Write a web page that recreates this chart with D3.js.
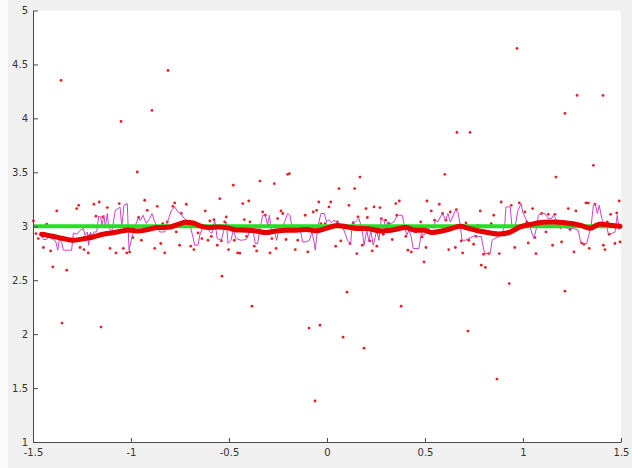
<!DOCTYPE html>
<html>
<head>
<meta charset="utf-8">
<script src="https://cdn.jsdelivr.net/npm/d3@7"></script>
<style>
  html, body { margin: 0; padding: 0; background: #f0f0f0; }
  #chart { width: 632px; height: 468px; }
  .axis text { font-family: "DejaVu Sans", sans-serif; font-size: 10px; fill: #333; }
  .axis path, .axis line { stroke: #4a4a4a; }
</style>
</head>
<body>
<div id="chart"></div>
<script>
// axis ticks
const xTicks = [-1.5, -1, -0.5, 0, 0.5, 1, 1.5];
const yTicks = [1, 1.5, 2, 2.5, 3, 3.5, 4, 4.5, 5];

// reference level
const target = 3;

// raw samples (x, value)
const samples = [
  [-1.498,3.049],[-1.485,2.932],[-1.473,2.886],[-1.447,2.803],[-1.430,3.019],[-1.410,2.771],
  [-1.399,2.623],[-1.379,3.142],[-1.328,2.593],[-1.320,3.000],[-1.308,2.870],[-1.277,3.164],
  [-1.267,3.194],[-1.260,2.803],[-1.240,2.784],[-1.218,2.753],[-1.209,2.917],[-1.189,3.204],
  [-1.162,3.225],[-1.179,3.093],[-1.144,3.086],[-1.121,3.173],[-1.107,2.794],[-1.077,2.753],
  [-1.060,3.210],[-1.039,2.794],[-1.022,2.753],
  [-0.968,3.503],[-1.007,2.762],[-0.990,2.895],[-0.961,3.081],[-0.947,2.870],[-0.930,3.241],
  [-0.917,3.148],[-0.879,2.794],[-0.866,3.185],[-0.848,2.840],[-0.838,3.025],[-0.828,2.753],
  [-0.815,3.040],[-0.786,3.185],[-0.777,3.216],[-0.769,2.947],[-0.752,2.824],[-0.743,3.118],
  [-0.718,3.204],[-0.695,2.815],[-0.679,2.784],[-0.658,2.938],[-0.638,2.886],[-0.621,3.142],
  [-0.607,2.870],[-0.598,3.049],[-0.590,2.907],[-0.577,3.062],[-0.560,2.824],[-0.547,3.256],
  [-0.539,2.864],[-0.522,3.040],[-0.514,3.086],[-0.536,2.537],
  [-0.478,3.380],[-0.342,3.419],[-0.269,3.395],[-0.201,3.481],[-0.192,3.488],[-0.430,3.210],
  [-0.399,3.234],[-0.502,2.784],[-0.473,2.870],[-0.456,2.753],[-0.445,2.750],[-0.422,3.062],
  [-0.410,2.907],[-0.393,3.040],[-0.371,2.815],[-0.359,2.771],[-0.345,2.963],[-0.328,3.132],
  [-0.315,3.102],[-0.297,3.009],[-0.291,2.753],[-0.281,2.886],[-0.260,2.794],[-0.252,3.071],
  [-0.235,3.142],[-0.226,3.118],[-0.209,2.877],[-0.184,2.963],[-0.162,2.784],[-0.149,2.870],
  [-0.133,2.963],[-0.111,3.102],[-0.098,2.762],[-0.077,2.969],[-0.070,3.132],[-0.053,3.148],
  [-0.042,3.225],[-0.031,3.025],[-0.009,3.025],
  [0.168,3.456],[0.061,3.349],[0.141,3.349],[0.019,3.225],[0.010,3.179],[0.112,3.194],
  [0.199,3.164],[0.240,3.179],[0.270,3.173],[0.351,3.210],[0.369,3.234],[0.044,2.815],
  [0.053,3.040],[0.070,2.864],[0.117,2.840],[0.134,3.031],[0.152,2.747],[0.158,3.086],
  [0.180,2.824],[0.206,3.081],[0.219,2.864],[0.231,2.771],[0.254,2.815],[0.277,3.071],
  [0.287,2.926],[0.299,3.056],[0.316,3.025],[0.333,2.877],[0.356,3.102],[0.367,2.994],
  [0.402,2.907],[0.413,2.778],[0.430,2.762],[0.453,2.947],[0.478,3.040],[0.495,2.669],
  [0.601,3.481],[0.510,3.234],[0.573,3.204],[0.889,3.225],[0.940,3.194],[0.981,3.216],
  [0.532,3.142],[0.590,3.118],[0.629,3.132],[0.660,3.155],[0.782,3.142],[0.851,3.102],
  [0.549,3.056],[0.607,3.056],[0.709,3.031],[0.770,3.009],[0.838,3.025],[0.621,2.784],
  [0.655,2.803],[0.685,2.864],[0.692,2.753],[0.723,2.870],[0.748,2.833],[0.760,2.907],
  [0.799,2.741],[0.825,2.747],[0.787,2.639],[0.808,2.618],[0.879,2.747],[0.958,2.803],
  [0.930,2.469],[0.485,2.901],[0.505,2.803],
  [1.359,3.565],[1.168,3.456],[1.491,3.234],[1.321,3.216],[1.333,3.216],[1.231,3.164],
  [1.270,3.142],[1.049,3.164],[1.010,3.132],[1.095,3.118],[1.129,3.111],[1.163,3.111],
  [1.447,3.111],[1.478,3.123],[1.367,3.204],[1.019,3.040],[1.166,3.040],[1.430,3.040],
  [1.372,3.019],[1.192,2.988],[1.240,2.969],[1.117,2.947],[1.061,2.895],[1.440,2.926],
  [1.027,2.845],[1.197,2.855],[1.299,2.845],[1.311,2.833],[1.151,2.824],[1.410,2.824],
  [1.469,2.840],[1.495,2.855],[1.066,2.747],[1.260,2.762],[1.338,2.794],[1.418,2.784],
  [-1.357,4.352],[-1.051,3.972],[-0.893,4.074],[-0.811,4.444],[-1.352,2.102],[-1.153,2.065],
  [-0.383,2.259],[-0.092,2.056],[-0.036,2.083],[-0.061,1.380],[0.082,1.972],[0.102,2.389],
  [0.189,1.870],[0.378,2.259],[0.719,2.028],[0.867,1.583],[0.969,4.648],[1.276,4.213],
  [1.408,4.213],[1.214,4.046],[1.214,2.398],[0.663,3.870],[0.730,3.870]
];

// running median (step-like trace)
const median = [
  [-1.456,2.917],[-1.447,2.877],[-1.430,2.877],[-1.422,2.907],[-1.410,2.886],[-1.396,2.877],
  [-1.383,2.855],[-1.374,2.778],[-1.366,2.870],[-1.354,2.855],[-1.345,2.778],[-1.303,2.778],
  [-1.294,2.938],[-1.277,2.926],[-1.260,2.963],[-1.243,2.979],[-1.235,2.917],[-1.223,2.947],
  [-1.216,2.824],[-1.206,2.947],[-1.199,2.870],[-1.189,2.947],[-1.175,2.947],[-1.165,3.093],
  [-1.155,3.086],[-1.148,3.009],[-1.138,3.102],[-1.131,2.994],[-1.121,3.118],[-1.114,2.994],
  [-1.098,2.947],[-1.080,3.148],[-1.066,3.164],[-1.056,3.179],[-1.047,2.994],[-1.036,3.194],
  [-1.019,3.210],[-1.010,2.778],
  [-0.995,2.901],[-0.981,2.994],[-0.964,3.071],[-0.951,3.056],[-0.939,3.102],[-0.922,3.025],
  [-0.905,3.071],[-0.893,3.118],[-0.879,3.040],[-0.866,2.994],[-0.854,2.947],[-0.828,2.947],
  [-0.811,3.056],[-0.794,3.148],[-0.777,3.179],[-0.760,3.132],[-0.746,3.118],[-0.735,3.086],
  [-0.718,3.056],[-0.701,3.025],[-0.684,2.901],[-0.675,2.824],[-0.658,2.824],[-0.649,2.917],
  [-0.633,2.994],[-0.616,3.009],[-0.598,2.947],[-0.587,2.932],[-0.573,3.056],[-0.560,2.886],
  [-0.539,2.870],[-0.526,2.963],[-0.514,3.040],[-0.505,2.840],
  [-0.490,2.870],[-0.478,2.963],[-0.464,2.886],[-0.439,2.870],[-0.413,2.877],[-0.405,2.901],
  [-0.393,2.963],[-0.379,2.979],[-0.366,2.840],[-0.354,2.840],[-0.345,2.947],[-0.328,3.102],
  [-0.315,3.102],[-0.303,3.009],[-0.294,3.102],[-0.282,2.932],[-0.269,2.963],[-0.257,2.870],
  [-0.243,2.994],[-0.226,2.994],[-0.213,3.056],[-0.201,3.118],[-0.189,3.102],[-0.179,2.994],
  [-0.167,2.963],[-0.155,2.994],[-0.138,2.979],[-0.124,2.855],[-0.107,2.855],[-0.090,2.870],
  [-0.077,2.947],[-0.066,2.855],[-0.060,2.778],[-0.047,2.994],[-0.031,3.118],[-0.014,3.118],
  [-0.002,3.040],[0.010,3.062],[0.022,3.031],[0.036,3.056],[0.049,3.040],[0.061,3.025],
  [0.078,2.994],[0.090,2.947],[0.104,2.870],[0.121,2.840],[0.129,3.040],[0.146,3.040],
  [0.163,3.071],[0.180,2.963],[0.189,2.824],[0.203,2.963],[0.214,2.855],[0.223,2.963],
  [0.236,2.824],[0.254,2.963],[0.265,2.870],[0.277,3.071],[0.291,3.056],[0.299,2.963],
  [0.308,3.040],[0.325,3.025],[0.342,3.040],[0.359,3.102],[0.384,3.102],[0.396,2.994],
  [0.407,2.917],[0.418,2.963],[0.430,2.901],[0.440,2.794],[0.469,2.794],[0.481,2.932],
  [0.495,2.917],
  [0.502,2.932],[0.515,2.963],[0.527,3.009],[0.544,2.979],[0.553,3.056],[0.566,3.040],
  [0.578,3.086],[0.590,3.118],[0.604,3.056],[0.617,3.118],[0.629,3.040],[0.641,3.086],
  [0.655,3.148],[0.668,3.132],[0.680,3.009],[0.689,2.870],[0.706,2.870],[0.723,2.886],
  [0.740,2.901],[0.754,2.917],[0.765,2.901],[0.787,2.907],[0.800,2.778],[0.808,2.747],
  [0.833,2.747],[0.842,2.870],[0.856,2.886],[0.872,2.901],[0.889,2.917],[0.907,3.009],
  [0.913,3.179],[0.935,3.179],[0.944,2.994],[0.961,3.009],[0.974,3.148],[0.991,3.210],
  [0.998,3.132],[1.010,3.086],[1.022,3.040],[1.032,3.009],[1.044,2.947],[1.056,2.886],
  [1.070,2.994],[1.078,3.102],[1.095,3.118],[1.112,3.118],[1.129,3.071],[1.146,3.071],
  [1.155,3.102],[1.172,3.056],[1.189,3.009],[1.206,2.994],[1.231,2.979],[1.257,2.979],
  [1.282,2.963],[1.294,2.855],[1.308,2.840],[1.325,2.840],[1.338,2.932],[1.348,3.009],
  [1.359,3.194],[1.369,3.210],[1.379,3.118],[1.389,3.194],[1.402,3.071],[1.410,3.040],
  [1.423,3.025],[1.435,2.932],[1.453,2.932],[1.469,2.947],[1.481,3.102],[1.491,2.963]
];

// smoothed estimate
const smooth = [
  [-1.456,2.926],[-1.398,2.907],[-1.347,2.886],[-1.296,2.870],[-1.245,2.883],[-1.194,2.900],
  [-1.143,2.926],[-1.092,2.940],[-1.041,2.957],[-1.015,2.965],[-0.964,2.955],[-0.913,2.970],
  [-0.862,2.988],[-0.811,2.990],[-0.760,3.018],[-0.719,3.037],[-0.684,3.030],[-0.648,3.003],
  [-0.607,2.988],[-0.556,2.994],[-0.505,2.985],[-0.464,2.966],[-0.413,2.963],[-0.362,2.956],
  [-0.311,2.942],[-0.260,2.956],[-0.209,2.963],[-0.158,2.963],[-0.107,2.970],[-0.056,2.958],
  [-0.005,2.980],[0.051,3.008],[0.102,2.994],[0.153,2.980],[0.204,2.978],[0.276,2.956],
  [0.327,2.963],[0.403,2.988],[0.444,2.965],[0.495,2.962],[0.536,2.942],[0.587,2.956],
  [0.638,2.980],[0.679,3.000],[0.724,2.980],[0.776,2.956],[0.827,2.940],[0.878,2.928],
  [0.929,2.942],[0.985,2.994],[1.036,3.016],[1.102,3.038],[1.153,3.040],[1.224,3.030],
  [1.291,3.010],[1.342,2.982],[1.393,3.022],[1.444,3.010],[1.495,3.000]
];

const width = 632;
const height = 468;
const margin = ({top: 10.5, right: 11, bottom: 26, left: 33});

const x = d3.scaleLinear()
      .domain([-1.5, 1.5])
      .range([margin.left, width - margin.right]);

const y = d3.scaleLinear()
      .domain([1, 5])
      .range([height - margin.bottom, margin.top]);

const svg = d3.select("#chart").append("svg")
      .attr("width", width)
      .attr("height", height)
      .attr("viewBox", [0, 0, width, height]);

svg.append("rect")
    .attr("x", 0).attr("y", 0)
    .attr("width", 8).attr("height", height)
    .attr("fill", "#fbfbfb");

svg.append("rect")
    .attr("x", x(-1.5))
    .attr("y", y(5))
    .attr("width", x(1.5) - x(-1.5))
    .attr("height", y(1) - y(5))
    .attr("fill", "#fff");

const plot = svg.append("g");

plot.append("g")
    .selectAll("circle")
    .data(samples)
    .join("circle")
    .attr("cx", d => x(d[0]))
    .attr("cy", d => y(d[1]))
    .attr("r", 1.4)
    .attr("fill", "#ec1c24");

const line = d3.line()
      .x(d => x(d[0]))
      .y(d => y(d[1]));

plot.append("path")
    .datum(median)
    .attr("fill", "none")
    .attr("stroke", "#cc44cc")
    .attr("stroke-width", 1)
    .attr("stroke-linejoin", "round")
    .attr("d", line);

plot.append("path")
    .datum([[-1.5, target], [1.5, target]])
    .attr("fill", "none")
    .attr("stroke", "#22e022")
    .attr("stroke-width", 4)
    .attr("d", line);

plot.append("path")
    .datum(smooth)
    .attr("fill", "none")
    .attr("stroke", "#e60000")
    .attr("stroke-width", 5)
    .attr("stroke-linejoin", "round")
    .attr("stroke-linecap", "round")
    .attr("d", d3.line().curve(d3.curveMonotoneX).x(d => x(d[0])).y(d => y(d[1])));

const xAxis = g => g
      .attr("class", "axis")
      .attr("transform", `translate(0,${y(1)})`)
      .call(d3.axisBottom(x).tickValues(xTicks).tickFormat(d => String(d))
            .tickSizeInner(-4).tickSizeOuter(0).tickPadding(7));

const yAxis = g => g
      .attr("class", "axis")
      .attr("transform", `translate(${x(-1.5)},0)`)
      .call(d3.axisLeft(y).tickValues(yTicks).tickFormat(d => String(d))
            .tickSizeInner(-5).tickSizeOuter(0).tickPadding(5));

svg.append("g").call(xAxis);
svg.append("g").call(yAxis);
</script>
</body>
</html>
